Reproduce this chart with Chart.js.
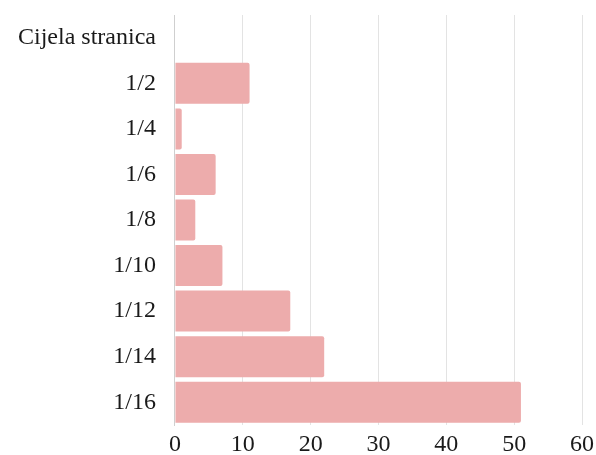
<!DOCTYPE html>
<html>
<head>
  <meta charset="UTF-8">
  <title>Cijela stranica</title>
  <script src="https://cdn.jsdelivr.net/npm/chart.js"></script>
  <style>
    html, body {
      margin: 0;
      padding: 0;
      background: #fff;
    }
    #wrap {
      width: 596px;
      height: 455px;
    }
  </style>
</head>
<body>
  <div id="wrap"><canvas id="barChart"></canvas></div>

  <script>
    const categories = ['Cijela stranica', '1/2', '1/4', '1/6', '1/8', '1/10', '1/12', '1/14', '1/16'];
    const values = [0, 11, 1, 6, 3, 7, 17, 22, 51];
    const xTicks = [0, 10, 20, 30, 40, 50, 60];

    new Chart(document.getElementById('barChart'), {
      type: 'bar',
      data: {
        labels: categories,
        datasets: [{
          data: values,
          backgroundColor: '#edacac',
          borderRadius: 2,
          borderSkipped: 'start',
          barPercentage: 0.9,
          categoryPercentage: 1
        }]
      },
      options: {
        indexAxis: 'y',
        responsive: true,
        maintainAspectRatio: false,
        animation: false,
        layout: { padding: { top: 15, right: 0, bottom: 0, left: 7 } },
        plugins: {
          legend: { display: false },
          tooltip: { enabled: false }
        },
        scales: {
          x: {
            min: xTicks[0],
            max: xTicks[xTicks.length - 1],
            // keep the axis strip 30px tall and a 14px gap on the right
            afterFit: s => { s.paddingRight = 14; s.height = 30; },
            ticks: {
              stepSize: 10,
              color: '#1a1a1a',
              padding: 10,
              font: { family: 'Liberation Serif', size: 24, lineHeight: 0.833 }
            },
            grid: { color: '#e3e3e3', drawTicks: false },
            border: { display: false }
          },
          y: {
            afterFit: s => { s.paddingTop = 0; s.paddingBottom = 0; },
            ticks: {
              color: '#1a1a1a',
              padding: 11,
              font: { family: 'Liberation Serif', size: 24 }
            },
            grid: { display: false },
            border: { color: '#cfcfcf' }
          }
        }
      }
    });
  </script>
</body>
</html>
